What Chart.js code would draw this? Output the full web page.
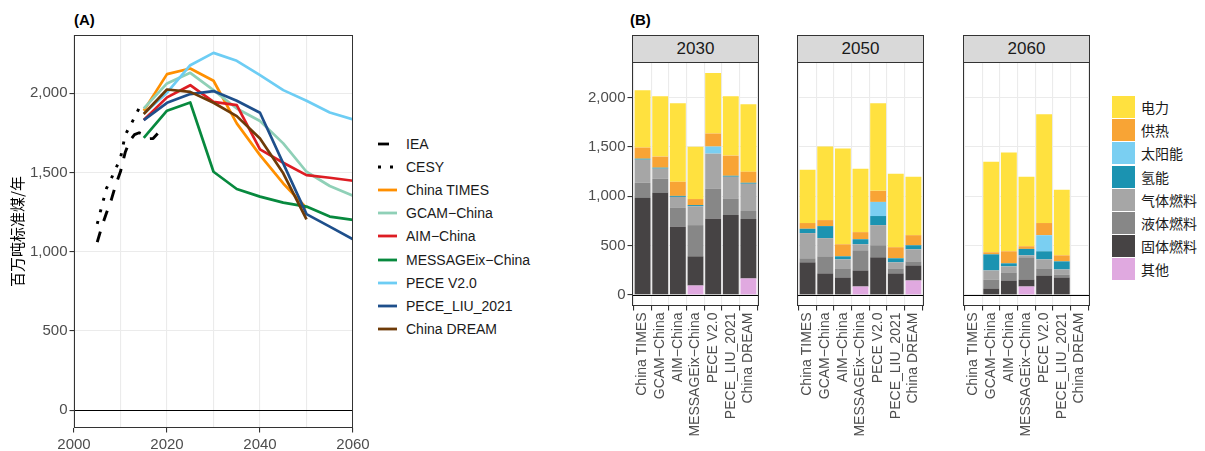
<!DOCTYPE html>
<html lang="zh">
<head>
<meta charset="utf-8">
<title>煤炭消费与终端能源结构</title>
<script src="https://cdn.jsdelivr.net/npm/chart.js@4.4.1/dist/chart.umd.min.js"></script>
<style>
  html, body { margin: 0; padding: 0; background: #fff; }
  #page { position: relative; width: 1205px; height: 451px; overflow: hidden;
          font-family: 'Liberation Sans', Arial, sans-serif; color: #1a1a1a; }
  #page canvas, .tag, .strip, .key-row { position: absolute; }
  .tag { font-weight: bold; font-size: 15px; line-height: 15px; color: #000; }
  .strip { box-sizing: border-box; height: 28px; background: #d9d9d9; border: 1px solid #333;
           font-size: 17px; line-height: 26px; text-align: center; color: #1a1a1a; }
  .key-row { display: flex; align-items: center; height: 22px; font-size: 14px; white-space: nowrap; }
  .key-row.cjk { font-family: 'Noto Sans CJK SC', sans-serif; }
  .swatch { width: 23px; height: 22px; margin-right: 6px; flex: none; }
</style>
</head>
<body>
<div id="page">
  <div class="tag" style="left:74px;top:12px">(A)</div>
  <div class="tag" style="left:630px;top:12px">(B)</div>
  <canvas id="trend" width="375" height="451" style="left:0;top:0"></canvas>
</div>
<script>
const FONT = "'Liberation Sans', Arial, sans-serif";
const CJK = "'Noto Sans CJK SC', 'Noto Sans CJK JP', sans-serif";

// (A) coal consumption, million tce per year
const ieaYears = [2005, 2006, 2007, 2008, 2009, 2010, 2011, 2012, 2013, 2014, 2015, 2016, 2017, 2018];
const ieaValues = [1060, 1160, 1245, 1325, 1425, 1505, 1625, 1700, 1738, 1750, 1738, 1712, 1714, 1745];
const cesyYears = [2005, 2006, 2007, 2008, 2009, 2010, 2011, 2012, 2013, 2014];
const cesyValues = [1175, 1290, 1400, 1460, 1525, 1590, 1735, 1790, 1845, 1905];

const modelYears = [2015, 2020, 2025, 2030, 2035, 2040, 2045, 2050, 2055, 2060];
const chinaTimes = [1889, 2120, 2155, 2078, 1809, 1609, 1430, 1275, null, null];
const gcamChina = [1903, 2061, 2128, 2019, 1903, 1824, 1683, 1504, 1414, 1353];
const aimChina = [1830, 1973, 2050, 1945, 1924, 1645, 1561, 1483, 1466, 1447];
const messageixChina = [1718, 1889, 1941, 1504, 1395, 1347, 1309, 1284, 1221, 1200];
const peceV2 = [1870, 2003, 2176, 2254, 2204, 2113, 2019, 1952, 1878, 1834];
const peceLiu = [1830, 1939, 1994, 2013, 1952, 1876, null, 1237, 1158, 1078];
const chinaDream = [1868, 2023, 2008, 1939, 1855, 1714, 1494, 1204, null, null];

const trendNames = ['IEA', 'CESY', 'China TIMES', 'GCAM−China', 'AIM−China', 'MESSAGEix−China',
                    'PECE V2.0', 'PECE_LIU_2021', 'China DREAM'];
const xTicksA = [2000, 2010, 2020, 2030, 2040, 2050, 2060];
const yTicks = [0, 500, 1000, 1500, 2000];

// (B) final energy mix by model; rows follow fuelNames, columns follow models
const models = ['China TIMES', 'GCAM−China', 'AIM−China', 'MESSAGEix−China', 'PECE V2.0', 'PECE_LIU_2021', 'China DREAM'];
const fuelNames = ['电力', '供热', '太阳能', '氢能', '气体燃料', '液体燃料', '固体燃料', '其他'];
const facetYears = ['2030', '2050', '2060'];

const mix2030 = [
  [581, 612, 795, 531, 612, 602, 683],
  [113, 112, 143, 61, 132, 204, 112],
  [0, 0, 0, 0, 72, 0, 0],
  [10, 10, 10, 12, 0, 10, 10],
  [234, 103, 112, 191, 357, 225, 276],
  [153, 142, 187, 316, 299, 163, 82],
  [983, 1034, 694, 296, 775, 809, 601],
  [0, 0, 0, 95, 0, 0, 167]
];
const mix2050 = [
  [540, 745, 969, 642, 887, 744, 592],
  [58, 61, 122, 72, 112, 112, 102],
  [0, 0, 0, 0, 143, 0, 0],
  [44, 122, 31, 51, 92, 41, 41],
  [255, 184, 91, 61, 204, 61, 122],
  [41, 173, 92, 204, 122, 51, 41],
  [330, 218, 177, 163, 381, 218, 153],
  [0, 0, 0, 85, 0, 0, 146]
];
const mix2060 = [
  [0, 918, 1000, 704, 1101, 663, 0],
  [0, 21, 122, 27, 123, 61, 0],
  [0, 0, 0, 0, 163, 0, 0],
  [0, 163, 31, 65, 82, 82, 0],
  [0, 92, 61, 20, 91, 51, 0],
  [0, 91, 82, 225, 72, 30, 0],
  [0, 65, 146, 71, 197, 177, 0],
  [0, 0, 0, 85, 0, 0, 0]
];
const facetMix = [mix2030, mix2050, mix2060];

// styling
const trendColors = ['#000000', '#000000', '#ff8f00', '#8fd0b7', '#dd1d23', '#07893e',
                     '#6dcdf4', '#1e4f8b', '#6e3b08'];
const trendDash = [[11, 11], [3, 9], [], [], [], [], [], [], []];
const fuelColors = ['#ffe13f', '#f8a435', '#7acff2', '#1b93b1', '#a6a6a6', '#878787', '#464344', '#e0a9e0'];

const pairs = (xs, ys) => xs.map((x, i) => ({ x: x, y: ys[i] }));
const fmt = v => v.toLocaleString('en-US');

// ggplot-like frame + zero reference line
const panelFrame = {
  id: 'panelFrame',
  afterDatasetsDraw(chart) {
    const { ctx, chartArea: a } = chart;
    const y0 = Math.round(chart.scales.y.getPixelForValue(0)) + 0.5;
    ctx.save();
    ctx.strokeStyle = '#000';
    ctx.lineWidth = 1.2;
    ctx.beginPath();
    ctx.moveTo(a.left, y0);
    ctx.lineTo(a.right, y0);
    ctx.stroke();
    ctx.strokeStyle = '#333';
    ctx.lineWidth = 1;
    ctx.strokeRect(a.left + 0.5, a.top + 0.5, a.right - a.left - 1, a.bottom - a.top - 1);
    ctx.restore();
  }
};

const page = document.getElementById('page');

// ---------- (A) trend lines ----------
const trendPoints = [
  pairs(ieaYears, ieaValues),
  pairs(cesyYears, cesyValues),
  pairs(modelYears, chinaTimes),
  pairs(modelYears, gcamChina),
  pairs(modelYears, aimChina),
  pairs(modelYears, messageixChina),
  pairs(modelYears, peceV2),
  pairs(modelYears, peceLiu),
  pairs(modelYears, chinaDream)
];
const trendMax = Math.max(...trendPoints.flat().map(p => p.y || 0));

new Chart(document.getElementById('trend'), {
  type: 'line',
  data: {
    datasets: trendNames.map((name, i) => ({
      label: name,
      data: trendPoints[i],
      borderColor: trendColors[i],
      borderWidth: i < 2 ? 2.9 : 2.7,
      borderDash: trendDash[i],
      borderCapStyle: 'butt',
      borderJoinStyle: 'round',
      pointRadius: 0,
      fill: false,
      tension: 0,
      spanGaps: true,
      order: trendNames.length - i
    }))
  },
  options: {
    responsive: false,
    animation: false,
    layout: { padding: { left: 0, top: 35, right: 22, bottom: 0 } },
    plugins: { legend: { display: false }, tooltip: { enabled: false } },
    scales: {
      x: {
        type: 'linear',
        min: 2000,
        max: 2060,
        afterBuildTicks: s => { s.ticks = xTicksA.map(v => ({ value: v })); },
        afterFit: s => { s.height = 23; s.paddingLeft = 0; s.paddingRight = 0; },
        border: { display: false },
        grid: {
          color: '#ebebeb',
          lineWidth: 1.1,
          tickLength: 4.5,
          tickColor: ctx => (ctx.tick && ctx.tick.value % 20 === 0) ? '#333' : 'rgba(0,0,0,0)'
        },
        ticks: {
          autoSkip: false,
          maxRotation: 0,
          padding: 3,
          color: '#4d4d4d',
          font: { family: FONT, size: 15 },
          callback: v => (v % 20 === 0 ? String(v) : '')
        }
      },
      y: {
        min: -0.05 * trendMax,
        max: 1.05 * trendMax,
        afterBuildTicks: s => { s.ticks = yTicks.map(v => ({ value: v })); },
        afterFit: s => { s.width = 74; s.paddingTop = 0; s.paddingBottom = 0; },
        border: { display: false },
        grid: { color: '#ebebeb', lineWidth: 1.1, tickLength: 4.5, tickColor: '#333' },
        ticks: { padding: 2, color: '#4d4d4d', font: { family: FONT, size: 15 }, callback: fmt },
        title: {
          display: true,
          text: '百万吨标准煤/年',
          color: '#000',
          font: { family: CJK, size: 15 },
          padding: { top: 8, bottom: 0 }
        }
      }
    }
  },
  plugins: [panelFrame]
});

trendNames.forEach((name, i) => {
  const row = document.createElement('div');
  row.className = 'key-row';
  row.style.left = '378px';
  row.style.top = (133 + i * 23.1) + 'px';
  row.innerHTML = '<svg width="19" height="6" style="margin-right:9px;flex:none">' +
    '<line x1="0" y1="3" x2="19" y2="3" stroke="' + trendColors[i] + '" stroke-width="2.8"' +
    (trendDash[i].length ? ' stroke-dasharray="' + trendDash[i].join(' ') + '"' : '') +
    '/></svg><span>' + name + '</span>';
  page.appendChild(row);
});

// ---------- (B) stacked bars, one chart per facet ----------
const panelLeft = [632, 797, 963];
const panelWidth = 127;
const stackTotals = facetMix.flatMap(m => models.map((_, j) => m.reduce((s, row) => s + row[j], 0)));
const mixMax = Math.max(...stackTotals);

facetYears.forEach((year, p) => {
  const withAxis = p === 0;
  const leftRoom = withAxis ? 72 : 12;
  const canvas = document.createElement('canvas');
  canvas.width = leftRoom + panelWidth + 12;
  canvas.height = 399;
  canvas.style.left = (panelLeft[p] - leftRoom) + 'px';
  canvas.style.top = '52px';
  page.appendChild(canvas);

  const strip = document.createElement('div');
  strip.className = 'strip';
  strip.style.left = panelLeft[p] + 'px';
  strip.style.top = '35px';
  strip.style.width = panelWidth + 'px';
  strip.textContent = year;
  page.appendChild(strip);

  const mix = facetMix[p];
  const datasets = fuelNames.map((fuel, k) => ({
    label: fuel,
    data: mix[k].map((v, j) => ({ x: j, y: v })),
    backgroundColor: fuelColors[k],
    borderWidth: 0,
    barPercentage: 0.9,
    categoryPercentage: 1
  })).reverse();

  new Chart(canvas, {
    type: 'bar',
    data: { datasets: datasets },
    options: {
      responsive: false,
      animation: false,
      layout: { padding: { left: withAxis ? 0 : 12, top: 10, right: 12, bottom: 0 } },
      plugins: { legend: { display: false }, tooltip: { enabled: false } },
      scales: {
        x: {
          type: 'linear',
          stacked: true,
          offset: false,
          min: -0.6,
          max: models.length - 0.4,
          afterBuildTicks: s => { s.ticks = models.map((_, j) => ({ value: j })); },
          afterFit: s => { s.height = 145; s.paddingLeft = 0; s.paddingRight = 0; },
          border: { display: false },
          grid: { color: '#ebebeb', lineWidth: 1.1, tickLength: 4.5, tickColor: '#333' },
          ticks: {
            autoSkip: false,
            minRotation: 90,
            maxRotation: 90,
            padding: 2,
            color: '#4d4d4d',
            font: { family: FONT, size: 14 },
            callback: v => models[v]
          }
        },
        y: {
          stacked: true,
          min: -0.05 * mixMax,
          max: 1.05 * mixMax,
          afterBuildTicks: s => { s.ticks = yTicks.map(v => ({ value: v })); },
          afterFit: s => { s.width = withAxis ? 72 : 0; s.paddingTop = 0; s.paddingBottom = 0; },
          border: { display: false },
          grid: {
            color: '#ebebeb',
            lineWidth: 1.1,
            drawTicks: withAxis,
            tickLength: 4.5,
            tickColor: '#333'
          },
          ticks: {
            display: withAxis,
            padding: 2,
            color: '#4d4d4d',
            font: { family: FONT, size: 15 },
            callback: fmt
          }
        }
      }
    },
    plugins: [panelFrame]
  });
});

fuelNames.forEach((fuel, k) => {
  const row = document.createElement('div');
  row.className = 'key-row cjk';
  row.style.left = '1112px';
  row.style.top = (96 + k * 23.2) + 'px';
  row.innerHTML = '<div class="swatch" style="background:' + fuelColors[k] + '"></div><span>' + fuel + '</span>';
  page.appendChild(row);
});
</script>
</body>
</html>
